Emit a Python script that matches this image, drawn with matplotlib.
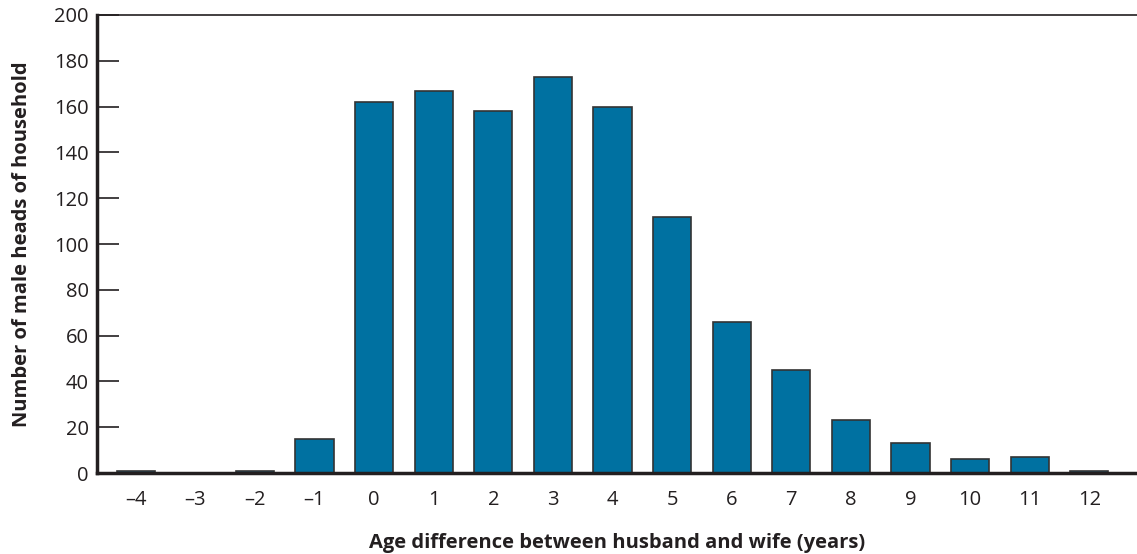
import numpy as np
import matplotlib.pyplot as plt

plt.rcParams['font.family'] = ['Open Sans', 'DejaVu Sans']

age_diff = [-4, -3, -2, -1, 0, 1, 2, 3, 4, 5, 6, 7, 8, 9, 10, 11, 12]
counts = [1, 0, 1, 15, 162, 167, 158, 173, 160, 112, 66, 45, 23, 13, 6, 7, 1]
tick_labels = ['\u2013' + str(-a) if a < 0 else str(a) for a in age_diff]
y_ticks = [0, 20, 40, 60, 80, 100, 120, 140, 160, 180, 200]

fig = plt.figure(figsize=(11.37, 5.54), dpi=100)
ax = fig.add_axes([0.0853, 0.146, 0.9147, 0.827])

ax.bar(age_diff, counts, width=0.64, color='#0071a1', edgecolor='#333333', linewidth=1.2)

ax.set_xlim(-4.65, 12.8)
ax.set_ylim(0, 200)
ax.set_xticks(age_diff)
ax.set_xticklabels(tick_labels, fontsize=14.5, color='#231f20')
ax.set_yticks(y_ticks)
ax.set_yticklabels([str(v) for v in y_ticks], fontsize=14.5, color='#231f20')

ax.tick_params(axis='x', length=0, pad=12)
ax.tick_params(axis='y', direction='in', length=16, width=1.2, color='#231f20', pad=6)

ax.spines['right'].set_visible(False)
ax.spines['left'].set_linewidth(2.5)
ax.spines['bottom'].set_linewidth(2.5)
ax.spines['top'].set_linewidth(1.2)
for s in ['left', 'bottom', 'top']:
    ax.spines[s].set_color('#231f20')

ax.set_xlabel('Age difference between husband and wife (years)', fontsize=14.5,
              fontweight='bold', labelpad=17, color='#231f20')
ax.set_ylabel('Number of male heads of household', fontsize=14.5,
              fontweight='bold', labelpad=16, color='#231f20')

fig.savefig('out.png', dpi=100)
